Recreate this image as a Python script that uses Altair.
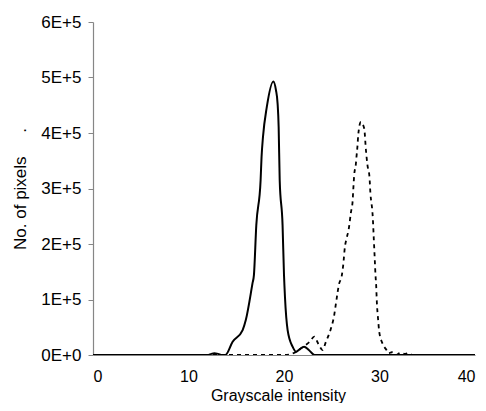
import altair as alt
import pandas as pd

# Solid series (first histogram)
solid_x = [0, 12.0, 12.4, 12.7, 13.1, 13.5, 13.86, 14.62, 15.67, 16.0, 16.7, 16.85, 17.1, 17.55, 17.65, 17.8, 18.2, 18.88,
           19.16, 19.33, 19.44, 19.55, 19.85, 20.0, 20.1, 20.38, 20.9, 21.26, 21.7, 22.1, 22.6, 23.2, 40]
solid_y = [0, 0, 2000, 3000, 2000, 0, 0, 24000, 45000, 63000, 129000, 144000, 234000, 315000, 357000, 393000, 447000, 493000,
           477000, 453000, 411000, 315000, 234000, 144000, 105000, 45000, 15000, 6000, 11000, 15000, 9000, 0, 0]

# Dashed series (second histogram)
dash_x = [0, 20.1, 21.3, 22.0, 22.7, 23.17, 23.6, 24.04, 24.39, 24.92, 25.26, 25.44, 25.78, 26.03, 26.2, 26.38, 26.55, 26.76,
          27.01, 27.18, 27.25, 27.35, 27.53, 27.59, 27.7, 27.77, 28.05, 28.4, 28.58, 28.74, 28.95, 29.05, 29.16, 29.22, 29.3,
          29.4, 29.5, 29.58, 29.65, 29.72, 29.86, 29.97, 30.31, 30.73, 30.94, 31.3, 31.7, 32.2, 32.7, 33.1, 33.4, 40]
dash_y = [0, 0, 6000, 15000, 24000, 33000, 20000, 9000, 24000, 48000, 72000, 93000, 129000, 141000, 162000, 195000, 210000, 225000,
          257000, 276000, 297000, 324000, 345000, 357000, 378000, 396000, 420000, 408000, 369000, 342000, 321000, 291000, 273000, 265000, 247000,
          210000, 174000, 144000, 126000, 96000, 63000, 42000, 21000, 9000, 3000, 5000, 0, 4000, 2000, 4000, 0, 0]

df = pd.concat([
    pd.DataFrame({"x": solid_x, "y": solid_y, "s": "a"}),
    pd.DataFrame({"x": dash_x, "y": dash_y, "s": "b"}),
])

FONT = "Liberation Sans"

xenc = alt.X("x:Q", scale=alt.Scale(domain=[0, 40], nice=False),
             axis=alt.Axis(values=[0, 10, 20, 30, 40], title="Grayscale intensity", format="d",
                           ticks=False, labelPadding=13, labelFontSize=16, titleFontSize=16,
                           titleX=185, titleY=45,
                           titleAlign="center", titleBaseline="alphabetic"))
yenc = alt.Y("y:Q", scale=alt.Scale(domain=[0, 600000], nice=False),
             axis=alt.Axis(values=[0, 100000, 200000, 300000, 400000, 500000, 600000],
                           labelExpr="datum.value == 0 ? '0E+0' : format(datum.value/100000, 'd') + 'E+5'",
                           title="No. of pixels\u00a0\u00a0\u00a0\u00a0\u00a0.", tickSize=5, labelPadding=7,
                           titlePadding=11))

solid = alt.Chart(df).transform_filter(alt.datum.s == "a").mark_line(
    color="black", strokeWidth=2, interpolate="monotone", clip=True
).encode(x=xenc, y=yenc)

dashed = alt.Chart(df).transform_filter(alt.datum.s == "b").mark_line(
    color="black", strokeWidth=1.8, strokeDash=[4, 4], interpolate="monotone", clip=True
).encode(x="x:Q", y="y:Q")

chart = alt.layer(solid, dashed).properties(
    width=382, height=333,
    background="white",
    autosize=alt.AutoSizeParams(type="none"),
    padding={"left": 85, "top": 14, "right": 3, "bottom": 48},
).configure_view(stroke=None).configure_axis(
    grid=False, domainColor="#868686", tickColor="#868686", domainWidth=1.2,
    labelFont=FONT, titleFont=FONT, labelFontSize=17, titleFontSize=17,
    labelColor="black", titleColor="black", titleFontWeight="normal"
)

chart.save("out.html", embed_options={"renderer": "svg", "actions": False})
